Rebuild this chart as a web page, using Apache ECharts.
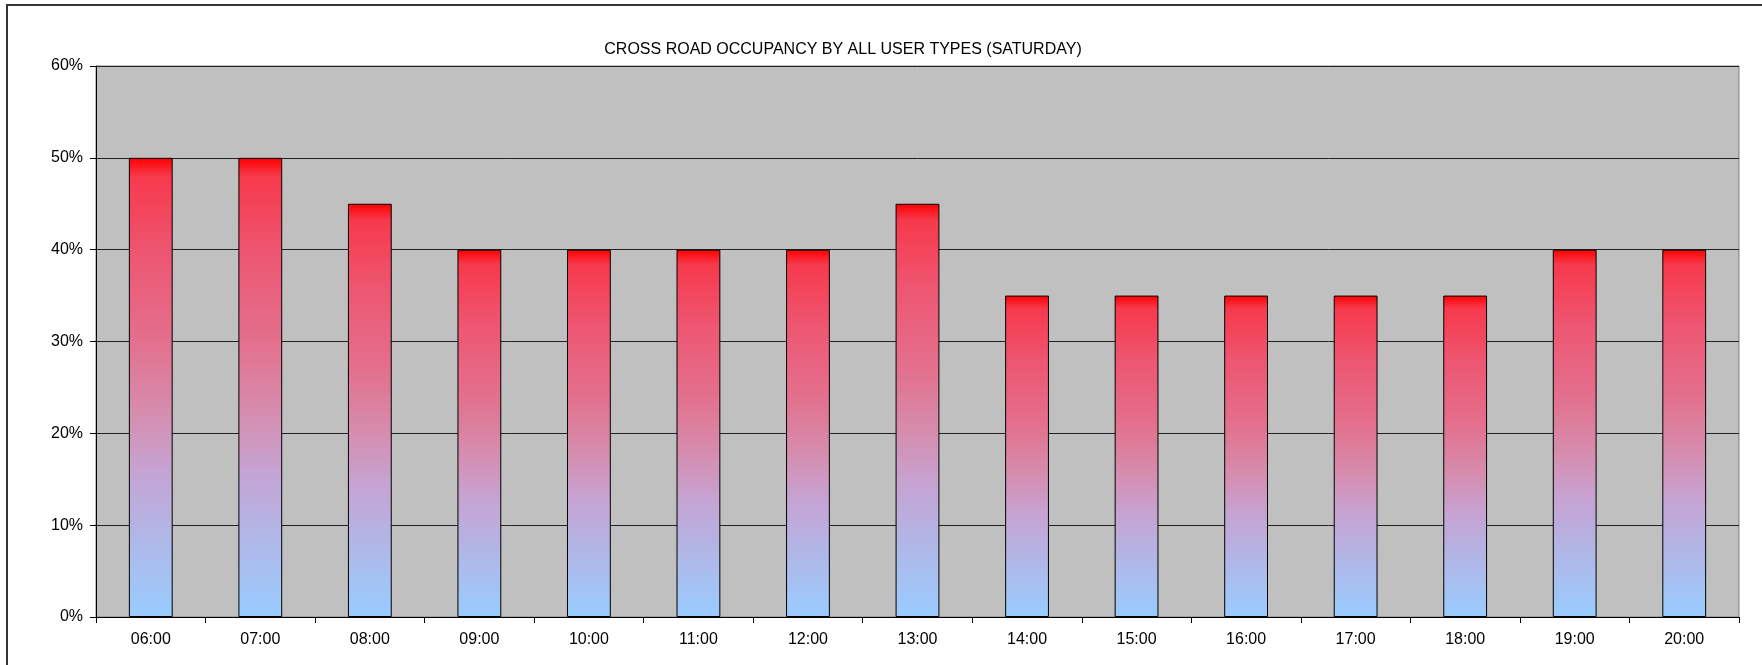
<!DOCTYPE html>
<html>
<head>
<meta charset="utf-8">
<script src="https://cdn.jsdelivr.net/npm/echarts@6/dist/echarts.min.js"></script>
<style>
  html, body { margin: 0; padding: 0; background: #fff; }
  #chart_main { width: 1762px; height: 665px; }
</style>
</head>
<body>
<div id="chart_main"></div>
<script>
// 数据
var hours = ['06:00','07:00','08:00','09:00','10:00','11:00','12:00','13:00','14:00','15:00','16:00','17:00','18:00','19:00','20:00'];
var occupancy = [50, 50, 45, 40, 40, 40, 40, 45, 35, 35, 35, 35, 35, 40, 40];
var titleText = 'CROSS ROAD OCCUPANCY BY ALL USER TYPES (SATURDAY)';

function chartMain(){
	var myChart = echarts.init(document.getElementById('chart_main'));
	var barColor = new echarts.graphic.LinearGradient(0, 0, 0, 1, [
		{offset: 0, color: '#ff0000'},
		{offset: 0.04, color: '#f7394c'},
		{offset: 0.2, color: '#ee5570'},
		{offset: 0.4, color: '#e3708e'},
		{offset: 0.55, color: '#d68cad'},
		{offset: 0.68, color: '#c6a3d3'},
		{offset: 0.82, color: '#b1b6e6'},
		{offset: 1, color: '#99ccff'}
	]);
	option = {
		backgroundColor: '#ffffff',
		animation: false,
		title: {
			text: titleText,
			left: 838,
			top: 37,
			textAlign: 'center',
			textStyle: {
				fontFamily: '"Liberation Sans", Arial, sans-serif',
				fontSize: 16,
				fontWeight: 'normal',
				color: '#000'
			}
		},
		graphic: [{
			type: 'rect',
			silent: true,
			shape: {x: 7, y: 5, width: 2000, height: 1000},
			style: {fill: 'none', stroke: '#333', lineWidth: 2}
		}],
		grid: {
			left: 96,
			right: 23,
			top: 66,
			bottom: 48,
			show: true,
			backgroundColor: '#c0c0c0',
			borderColor: '#808080',
			borderWidth: 1
		},
		xAxis: {
			type: 'category',
			data: hours,
			axisLine: {lineStyle: {color: '#000', width: 1}},
			axisTick: {show: true, length: 6, lineStyle: {color: '#000'}},
			axisLabel: {
				color: '#000',
				fontSize: 16,
				margin: 15,
				fontFamily: '"Liberation Sans", Arial, sans-serif'
			}
		},
		yAxis: {
			type: 'value',
			min: 0,
			max: 60,
			interval: 10,
			axisLine: {show: true, lineStyle: {color: '#000', width: 1}},
			axisTick: {show: true, length: 6, lineStyle: {color: '#000'}},
			axisLabel: {
				color: '#000',
				fontSize: 16,
				margin: 13,
				formatter: '{value}%',
				fontFamily: '"Liberation Sans", Arial, sans-serif'
			},
			splitLine: {show: true, lineStyle: {color: '#222', width: 1}}
		},
		series: [{
			type: 'bar',
			data: occupancy,
			barWidth: '40%',
			itemStyle: {
				color: barColor,
				borderColor: '#000',
				borderWidth: 1
			}
		}]
	};
	myChart.setOption(option);
}
chartMain();
</script>
</body>
</html>
